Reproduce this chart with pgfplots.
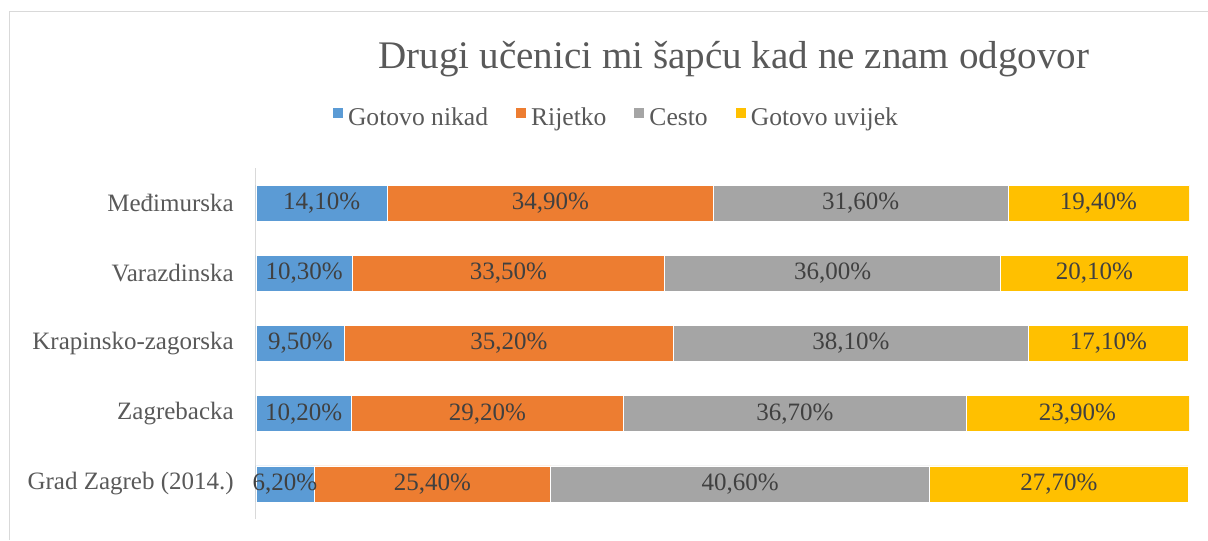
\documentclass[border=0pt]{standalone}
\usepackage{fontspec}
\setmainfont{Liberation Serif}
\usepackage{pgfplots}
\usepackage{pgfplotstable}
\pgfplotsset{compat=1.18}
\definecolor{cblue}{HTML}{5B9BD5}
\definecolor{corange}{HTML}{ED7D31}
\definecolor{cgray}{HTML}{A5A5A5}
\definecolor{cyellow}{HTML}{FFC000}
\definecolor{txt}{HTML}{595959}
\definecolor{lbl}{HTML}{404040}
\definecolor{bord}{HTML}{D9D9D9}
\pgfplotsset{sqlegend/.style={legend image code/.code={\fill[##1,draw=none] (0pt,0pt) rectangle (7.5pt,7.5pt);}}}
\pgfplotstableread{
pos nikad rijetko cesto uvijek
0 6.2 25.4 40.6 27.7
1 10.2 29.2 36.7 23.9
2 9.5 35.2 38.1 17.1
3 10.3 33.5 36.0 20.1
4 14.1 34.9 31.6 19.4
}\data
\begin{document}
\begin{tikzpicture}[x=1pt,y=1pt]
\useasboundingbox (0,0) rectangle (906,405);
\draw[bord, line width=0.75pt] (6.75,0) -- (6.75,396) -- (906,396);
\node[anchor=base, text=txt, inner sep=0pt, font=\fontsize{29.3pt}{34pt}\selectfont] at (550.5,353.25) {Drugi učenici mi šapću kad ne znam odgovor};
\begin{axis}[
  at={(192pt,15.75pt)}, anchor=south west,
  scale only axis, width=699.75pt, height=263.25pt,
  xbar stacked, bar width=27pt,
  xmin=0, xmax=100, ymin=-0.5, ymax=4.5,
  axis x line=none, axis y line*=left,
  y axis line style={draw=bord, line width=0.75pt},
  ytick={0,1,2,3,4},
  yticklabels={Grad Zagreb (2014.), Zagrebacka, Krapinsko-zagorska, Varazdinska, Međimurska},
  major tick length=0pt,
  yticklabel style={anchor=east, inner sep=0pt, xshift=-16.5pt, text=txt, font=\fontsize{18.75pt}{22pt}\selectfont},
  point meta=explicit,
  nodes near coords={\pgfmathprintnumber[fixed,fixed zerofill,precision=2,use comma,assume math mode=true]{\pgfplotspointmeta}\%},
  every node near coord/.append style={anchor=center, inner sep=0pt, text=lbl, font=\fontsize{18.75pt}{22pt}\selectfont},
  legend columns=4,
  legend style={at={(0.3853,1.1425)}, anchor=center, draw=none, fill=none, font=\fontsize{19.2pt}{22pt}\selectfont, text=txt, inner sep=0pt, nodes={inner sep=0pt}, /tikz/every odd column/.append style={column sep=3.75pt}, /tikz/every even column/.append style={column sep=21pt}},
]
\addplot[fill=cblue, draw=white, line width=0.5pt, sqlegend] table[x=nikad, y=pos, meta=nikad] {\data};
\addplot[fill=corange, draw=white, line width=0.5pt, sqlegend] table[x=rijetko, y=pos, meta=rijetko] {\data};
\addplot[fill=cgray, draw=white, line width=0.5pt, sqlegend] table[x=cesto, y=pos, meta=cesto] {\data};
\addplot[fill=cyellow, draw=white, line width=0.5pt, sqlegend] table[x=uvijek, y=pos, meta=uvijek] {\data};
\legend{Gotovo nikad, Rijetko, Cesto, Gotovo uvijek}
\end{axis}
\end{tikzpicture}
\end{document}
